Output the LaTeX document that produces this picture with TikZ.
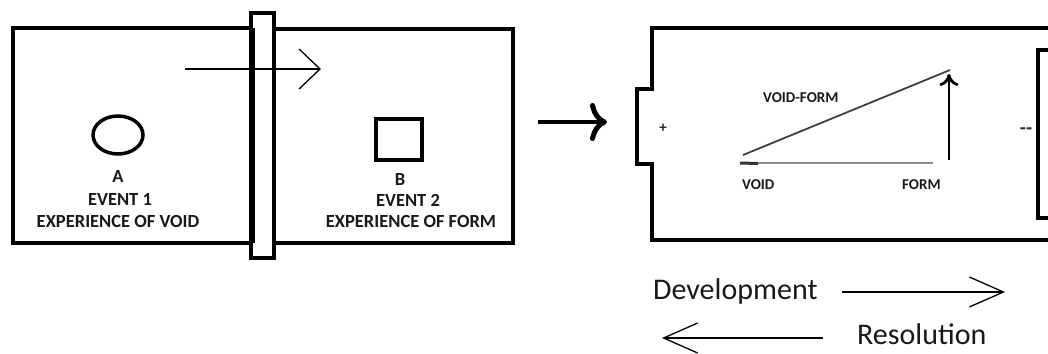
\documentclass[tikz,border=0pt]{standalone}
\usepackage{fontspec}
\setmainfont{Carlito}
\usetikzlibrary{arrows.meta,shapes.geometric}

\begin{document}
\begin{tikzpicture}[
    x=1pt, y=-1pt,
    wall/.style={line width=4pt, line join=miter},
    eventtext/.style={font=\bfseries\fontsize{18.5}{22}\selectfont, inner sep=0pt, anchor=base, text=black!90},
    axistext/.style={font=\bfseries\fontsize{15}{18}\selectfont, inner sep=0pt, anchor=base west, text=black!90},
    flowtext/.style={font=\fontsize{30}{36}\selectfont, inner sep=0pt, anchor=base west, text=black!90},
    thinarrow/.style={line width=1.3pt, -{Straight Barb[length=21pt, width=40pt]}},
    flowarrow/.style={line width=1.3pt, -{Straight Barb[length=34pt, width=30pt]}}
]
\path[use as bounding box, clip] (0,0) rectangle (1048,353);

% Left panel: two rooms split by a wall
\draw[wall] (251,28) -- (13,28) -- (13,243) -- (251,243);
\draw[wall] (274,29) -- (513,29) -- (513,243) -- (274,243);
\draw[wall, fill=white] (251,13) rectangle (274,258);
\draw[line width=6pt] (252,28) -- (252,243);

% Crossing arrow through the wall
\coordinate (crossstart) at (185,69);
\coordinate (crossend) at (321,69);
\draw[thinarrow] (crossstart) -- (crossend);

% Event A
\node[ellipse, draw, line width=3.5pt, minimum width=50pt, minimum height=38pt] (voidmark) at (118,135) {};
\node[eventtext] (lblA) at (118,182) {A};
\node[eventtext] (evtA) at (120,205) {EVENT 1};
\node[eventtext] (expA) at (118,227) {EXPERIENCE OF VOID};

% Event B
\node[rectangle, draw, line width=4pt, minimum width=46pt, minimum height=41pt] (formmark) at (399,139.5) {};
\node[eventtext] (lblB) at (400,185) {B};
\node[eventtext] (evtB) at (408,206) {EVENT 2};
\node[eventtext] (expB) at (411,227) {EXPERIENCE OF FORM};

% Arrow between the panels
\coordinate (shiftstart) at (538,122);
\coordinate (shiftend) at (607,122);
\draw[line width=4.5pt, -{Computer Modern Rightarrow[length=17pt, width=38pt, line width=5pt]}] (shiftstart) -- (shiftend);

% Right panel: battery shaped box
\draw[wall] (1060,28) -- (652,28) -- (652,89) -- (637,89) -- (637,164) -- (652,164) -- (652,240) -- (1060,240);
\draw[line width=1.5pt] (827,26.5) -- (873,26.5);
\draw[wall] (1060,50) -- (1038,50) -- (1038,218) -- (1060,218);
\node[font=\bfseries\fontsize{15}{18}\selectfont, inner sep=0pt, text=black!85] (plus) at (663,128) {+};
\node[font=\bfseries\fontsize{20}{24}\selectfont, inner sep=0pt, text=black!85] (minus) at (1026,131) {{-}{-}};

% Triangle: void to form
\coordinate (basel) at (740,163);
\coordinate (baser) at (933,163);
\coordinate (slopel) at (743,155);
\coordinate (sloper) at (950,70);
\coordinate (risebottom) at (949,160);
\coordinate (risetop) at (949,74);
\draw[line width=1.6pt, black!45] (basel) -- (baser);
\draw[line width=3pt, black!80] (basel) -- ++(18,0.5);
\draw[line width=1.8pt, black!75] (slopel) -- (sloper);
\draw[line width=2.8pt, -{Computer Modern Rightarrow[length=12pt, width=19pt, line width=2.8pt]}] (risebottom) -- (risetop);
\node[axistext] (slope) at (763,102) {VOID-FORM};
\node[axistext] (voidend) at (742,189) {VOID};
\node[axistext] (formend) at (902,189) {FORM};

% Development and resolution
\node[flowtext] (devtext) at (653,299) {Development};
\node[flowtext] (restext) at (857,344) {Resolution};
\coordinate (devstart) at (842,292);
\coordinate (devend) at (1005,292);
\coordinate (resstart) at (823,338);
\coordinate (resend) at (662,338);
\draw[flowarrow] (devstart) -- (devend);
\draw[flowarrow] (resstart) -- (resend);

\end{tikzpicture}
\end{document}
